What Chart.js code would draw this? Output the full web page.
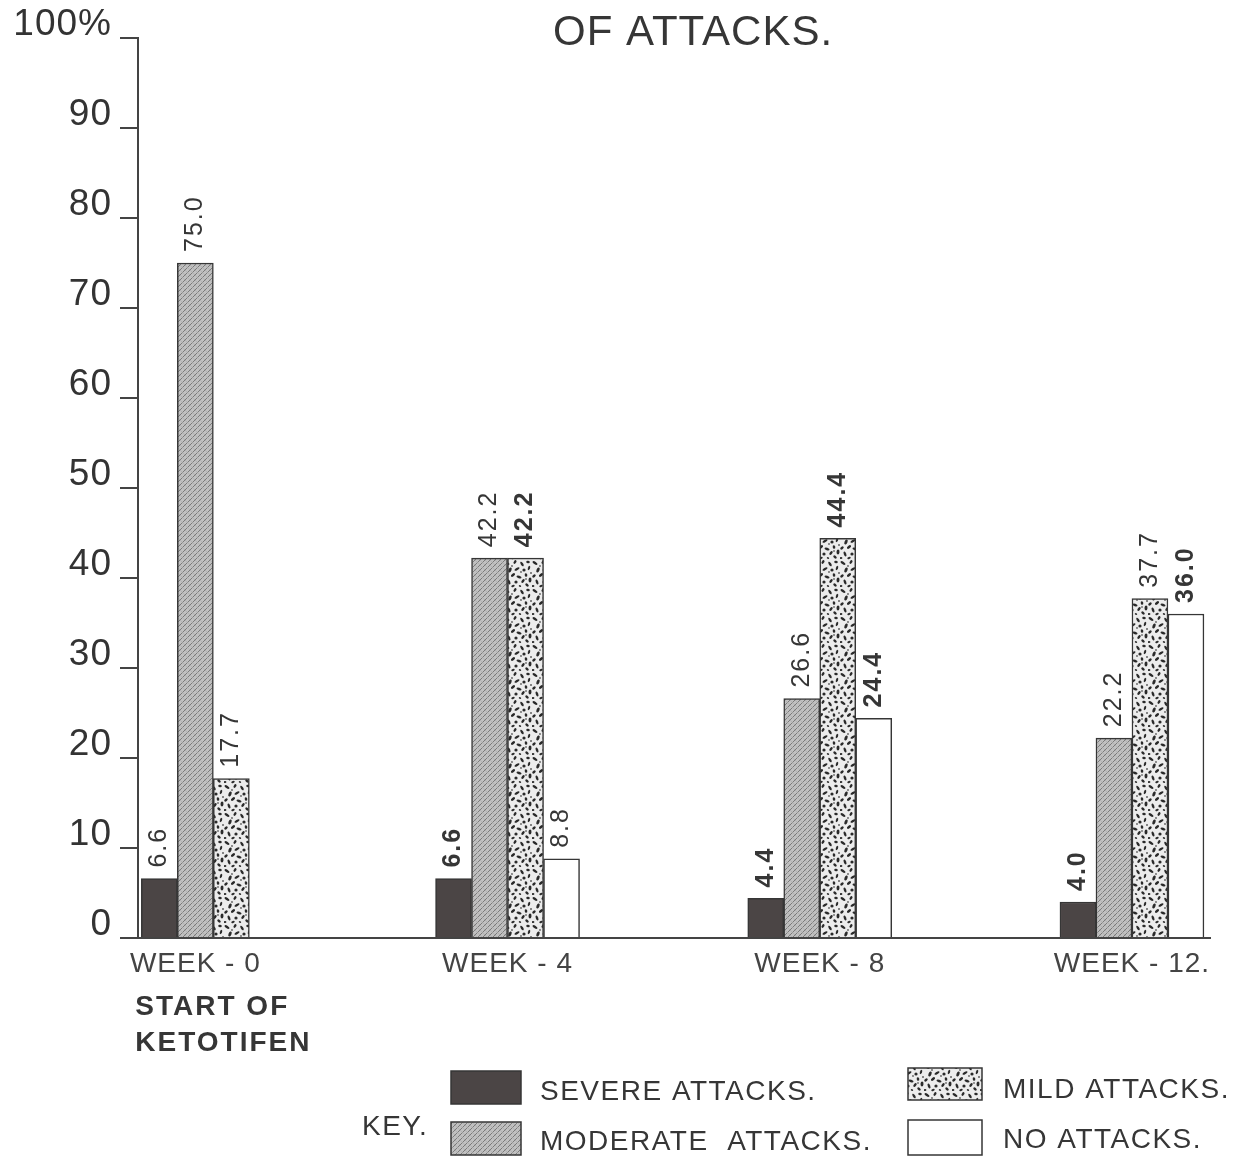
<!DOCTYPE html>
<html>
<head>
<meta charset="utf-8">
<script src="https://cdn.jsdelivr.net/npm/chart.js@4.4.1/dist/chart.umd.min.js"></script>
<style>
  html, body { margin: 0; padding: 0; background: #ffffff; }
  #wrap { width: 1248px; height: 1160px; }
</style>
</head>
<body>
<div id="wrap"><canvas id="c" width="1248" height="1160"></canvas></div>
<script>
// ---- data ----
const weeks = [0, 4, 8, 12];
const weekLabels = ['WEEK - 0', 'WEEK - 4', 'WEEK - 8', 'WEEK - 12.'];
const severe = [6.6, 6.6, 4.4, 4.0];
const moderate = [75.0, 42.2, 26.6, 22.2];
const mild = [17.7, 42.2, 44.4, 37.7];
const noAttacks = [null, 8.8, 24.4, 36.0];
const seriesNames = ['SEVERE ATTACKS.', 'MODERATE  ATTACKS.', 'MILD ATTACKS.', 'NO ATTACKS.'];
const yTickValues = [0, 10, 20, 30, 40, 50, 60, 70, 80, 90, 100];
const yTickLabels = ['0', '10', '20', '30', '40', '50', '60', '70', '80', '90', '100%'];
const titleText = 'OF ATTACKS.';
const startNote = ['START OF', 'KETOTIFEN'];
const keyText = 'KEY.';

const series = [severe, moderate, mild, noAttacks];
// which value labels are printed in heavy type
const heavyLabel = [
  [false, true, true, true],
  [false, false, false, false],
  [false, true, true, false],
  [false, false, true, true]
];

const FONT = '"Liberation Sans", Arial, Helvetica, sans-serif';
const INK = '#363636';

// ---- fill textures ----
function makeHatch() {
  const c = document.createElement('canvas');
  c.width = 5; c.height = 5;
  const g = c.getContext('2d');
  g.fillStyle = '#c0c0c0';
  g.fillRect(0, 0, 5, 5);
  g.strokeStyle = '#7a7a7a';
  g.lineWidth = 1;
  g.beginPath();
  g.moveTo(-1, 6); g.lineTo(6, -1);
  g.moveTo(-4, 4); g.lineTo(4, -4);
  g.moveTo(1, 9); g.lineTo(9, 1);
  g.stroke();
  g.strokeStyle = '#a6a6a6';
  g.lineWidth = 0.6;
  g.beginPath();
  g.moveTo(-1, -1); g.lineTo(6, 6);
  g.stroke();
  return g.createPattern(c, 'repeat');
}

// speckle blobs: [cx, cy, rx, ry, rotation]
const speckles = [
  [3, 3, 2.8, 1.3, 0.6], [11, 2, 2.0, 1.2, 2.1], [18, 4, 2.6, 1.2, 1.0], [24, 2, 1.8, 1.2, 0.2],
  [6, 10, 1.5, 2.6, 0.4], [13, 9, 2.8, 1.2, 2.6], [20, 10, 1.6, 1.5, 0.0], [25, 8, 2.2, 1.1, 1.9],
  [2, 16, 2.0, 1.2, 2.4], [9, 15, 1.3, 2.4, 0.9], [15, 17, 2.6, 1.3, 0.3], [22, 15, 1.8, 1.3, 1.4],
  [26, 20, 1.5, 2.4, 0.1], [5, 22, 2.6, 1.2, 1.2], [12, 22, 1.6, 1.6, 0.0], [19, 21, 2.3, 1.2, 2.2],
  [23, 25, 2.0, 1.2, 0.7], [1, 26, 1.4, 1.0, 0.0], [9, 26, 1.8, 1.0, 2.8], [16, 26, 1.3, 0.9, 0.5],
  [27, 13, 1.0, 0.8, 0.0], [17, 12, 0.9, 0.8, 0.0], [8, 6, 0.9, 0.7, 0.0], [22, 19, 0.8, 0.7, 0.0]
];
function makeSpeckle() {
  const c = document.createElement('canvas');
  c.width = 28; c.height = 28;
  const g = c.getContext('2d');
  g.fillStyle = '#ececec';
  g.fillRect(0, 0, 28, 28);
  g.fillStyle = '#2a2a2a';
  speckles.forEach(([x, y, rx, ry, r]) => {
    g.beginPath();
    g.ellipse(x, y, rx, ry, r, 0, Math.PI * 2);
    g.fill();
  });
  return g.createPattern(c, 'repeat');
}

const fills = ['#4b4545', makeHatch(), makeSpeckle(), '#ffffff'];

// ---- plugins ----
const spacing = {
  id: 'spacing',
  beforeDraw(chart) { chart.ctx.letterSpacing = '1px'; }
};

const valueLabels = {
  id: 'valueLabels',
  afterDatasetsDraw(chart) {
    const ctx = chart.ctx;
    series.forEach((vals, i) => {
      const meta = chart.getDatasetMeta(i);
      meta.data.forEach((bar, j) => {
        const v = vals[j];
        if (v === null || v === undefined) return;
        ctx.save();
        ctx.letterSpacing = '2px';
        ctx.translate(bar.x, bar.y - 11);
        ctx.rotate(-Math.PI / 2);
        ctx.font = (heavyLabel[i][j] ? 'bold ' : '') + '25px ' + FONT;
        ctx.fillStyle = INK;
        ctx.textAlign = 'left';
        ctx.textBaseline = 'middle';
        ctx.fillText(v.toFixed(1), 0, 0);
        ctx.restore();
      });
    });
  }
};

const decorations = {
  id: 'decorations',
  afterDraw(chart) {
    const ctx = chart.ctx;
    const xs = chart.scales.x;
    ctx.save();
    ctx.fillStyle = INK;
    ctx.textBaseline = 'alphabetic';
    ctx.textAlign = 'left';

    // heading
    ctx.letterSpacing = '1px';
    ctx.font = '42px ' + FONT;
    ctx.fillText(titleText, 553, 45);

    // note under the first week
    ctx.letterSpacing = '2px';
    ctx.font = 'bold 28px ' + FONT;
    const x0 = xs.getPixelForValue(weeks[0]) - 60;
    ctx.fillText(startNote[0], x0, 1015);
    ctx.fillText(startNote[1], x0, 1051);

    // key
    ctx.letterSpacing = '1.5px';
    ctx.font = '28px ' + FONT;
    ctx.fillText(keyText, 362, 1135);
    const slots = [
      { box: [451, 1071, 70, 33], text: [540, 1100] },
      { box: [451, 1122, 70, 33], text: [540, 1150] },
      { box: [908, 1068, 74, 32], text: [1003, 1098] },
      { box: [908, 1120, 74, 35], text: [1003, 1148] }
    ];
    chart.data.datasets.forEach((ds, i) => {
      const s = slots[i];
      const [bx, by, bw, bh] = s.box;
      ctx.fillStyle = ds.backgroundColor;
      ctx.fillRect(bx, by, bw, bh);
      ctx.strokeStyle = INK;
      ctx.lineWidth = 1.5;
      ctx.strokeRect(bx, by, bw, bh);
      ctx.fillStyle = INK;
      ctx.fillText(ds.label, s.text[0], s.text[1]);
    });
    ctx.restore();
  }
};

// ---- chart ----
new Chart(document.getElementById('c'), {
  type: 'bar',
  data: {
    datasets: series.map((vals, i) => ({
      label: seriesNames[i],
      data: weeks.map((w, j) => ({ x: w, y: vals[j] })),
      backgroundColor: fills[i],
      borderColor: INK,
      borderWidth: 1.5,
      borderSkipped: 'bottom',
      barThickness: 36,
      skipNull: true
    }))
  },
  options: {
    responsive: false,
    animation: false,
    devicePixelRatio: 1,
    layout: { padding: { top: 38, left: 0, right: 38, bottom: 162 } },
    plugins: {
      legend: { display: false },
      title: { display: false },
      tooltip: { enabled: false }
    },
    scales: {
      x: {
        type: 'linear',
        min: -0.7347,
        max: 13.0,
        offset: false,
        afterBuildTicks: (s) => { s.ticks = weeks.map((v) => ({ value: v })); },
        afterFit: (s) => { s.height = 60; },
        grid: { display: false, drawTicks: false },
        border: { display: true, color: '#444444', width: 2 },
        ticks: {
          autoSkip: false,
          maxRotation: 0,
          padding: 9,
          color: '#444444',
          font: { family: FONT, size: 28 },
          callback: (v, idx) => weekLabels[idx]
        }
      },
      y: {
        min: 0,
        max: 100,
        afterBuildTicks: (s) => { s.ticks = yTickValues.map((v) => ({ value: v })); },
        afterFit: (s) => { s.width = 138; },
        grid: { drawOnChartArea: false, drawTicks: true, tickLength: 18, color: '#444444', lineWidth: 2 },
        border: { display: true, color: '#444444', width: 2 },
        ticks: {
          padding: 8,
          color: '#333333',
          font: { family: FONT, size: 37, lineHeight: '26px' },
          callback: (v, idx) => [yTickLabels[idx], '']
        }
      }
    }
  },
  plugins: [spacing, valueLabels, decorations]
});
</script>
</body>
</html>
